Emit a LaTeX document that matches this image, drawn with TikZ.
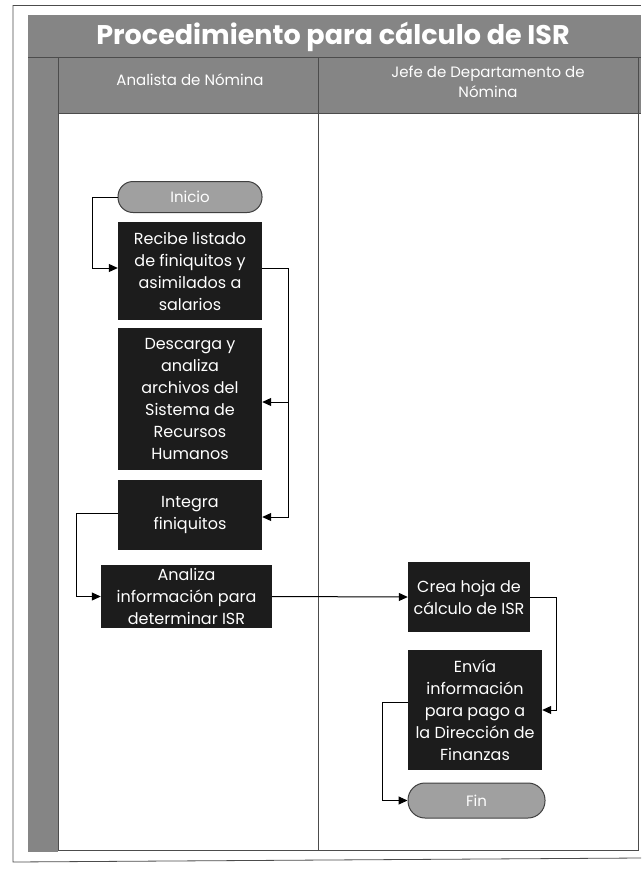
\documentclass[tikz,border=0pt]{standalone}
\usepackage{fontspec}
\setmainfont{Poppins}
\usetikzlibrary{arrows.meta}
\definecolor{bandgray}{HTML}{858585}
\definecolor{boxblack}{HTML}{1C1C1C}
\definecolor{pillgray}{HTML}{A0A0A0}
\begin{document}
\begin{tikzpicture}[x=1pt,y=-1pt,
  procbox/.style={fill=boxblack,text=white,inner sep=0pt,align=center,font=\fontsize{16}{22}\selectfont},
  pill/.style={fill=pillgray,draw=black!75,line width=1pt,rounded corners=15pt,inner sep=0pt,text=white,font=\fontsize{15}{18}\selectfont},
  conn/.style={line width=1pt,-{Triangle[length=9pt,width=8pt]}},
  frame/.style={draw=black!70,line width=0.8pt},
  hdr/.style={text=white,align=center,font=\fontsize{15}{20}\selectfont}]
\useasboundingbox (0,0) rectangle (641,876);
\fill[white] (0,0) rectangle (641,876);
% outer frame
\draw[black!70,line width=0.8pt] (13,5) -- (641,5);
\draw[black!70,line width=0.8pt] (13,5) -- (13,862) -- (641,858);
% gray band
\fill[bandgray] (28,15) rectangle (641,113);
\fill[bandgray] (28,15) rectangle (58,852);
\fill[white] (58,113) rectangle (638,850);
% table lines
\draw[frame] (28,57) -- (641,57);
\draw[frame] (58,57) -- (58,850) -- (638,850) -- (638,57);
\draw[frame] (58,113) -- (641,113);
\draw[frame] (318,57) -- (318,850);
% title and headers
\node[text=white,font=\fontsize{27}{30}\selectfont\bfseries] (title) at (333,37) {Procedimiento para cálculo de ISR};
\node[hdr] (h1) at (190,80) {Analista de Nómina};
\node[hdr] (h2) at (488,82) {Jefe de Departamento de\\Nómina};
% nodes
\node[pill,minimum width=144pt,minimum height=31pt] (inicio) at (190,197) {Inicio};
\node[procbox,minimum width=144pt,minimum height=98pt] (recibe) at (190,271) {Recibe listado\\de finiquitos y\\asimilados a\\salarios};
\node[procbox,minimum width=144pt,minimum height=142pt] (descarga) at (190,399) {Descarga y\\analiza\\archivos del\\Sistema de\\Recursos\\Humanos};
\node[procbox,minimum width=144pt,minimum height=70pt] (integra) at (190,515) {Integra\\finiquitos};
\node[procbox,minimum width=171pt,minimum height=63pt] (analiza) at (186.5,596.5) {Analiza\\información para\\determinar ISR};
\node[procbox,minimum width=122pt,minimum height=70pt] (crea) at (469,597) {Crea hoja de\\cálculo de ISR};
\node[procbox,minimum width=134pt,minimum height=120pt] (envia) at (475,710) {Envía\\información\\para pago a\\la Dirección de\\Finanzas};
\node[pill,minimum width=137pt,minimum height=35pt,rounded corners=17pt] (fin) at (476.5,800.5) {Fin};
% connectors
\draw[conn] (inicio.west) -- ++(-25,0) |- ([yshift=3pt]recibe.west);
\draw[conn] ([yshift=3pt]recibe.east) -- ++(26,0) |- ([yshift=-3pt]descarga.east);
\draw[conn] ([yshift=3pt]recibe.east) -- ++(26,0) |- ([yshift=-2pt]integra.east);
\draw[conn] ([yshift=2pt]integra.west) -- ++(-41,0) |- (analiza.west);
\draw[conn] (analiza.east) -- (crea.west);
\draw[conn] (crea.east) -- ++(26,0) |- (envia.east);
\draw[conn] ([yshift=8pt]envia.west) -- ++(-25,0) |- (fin.west);
\end{tikzpicture}
\end{document}
